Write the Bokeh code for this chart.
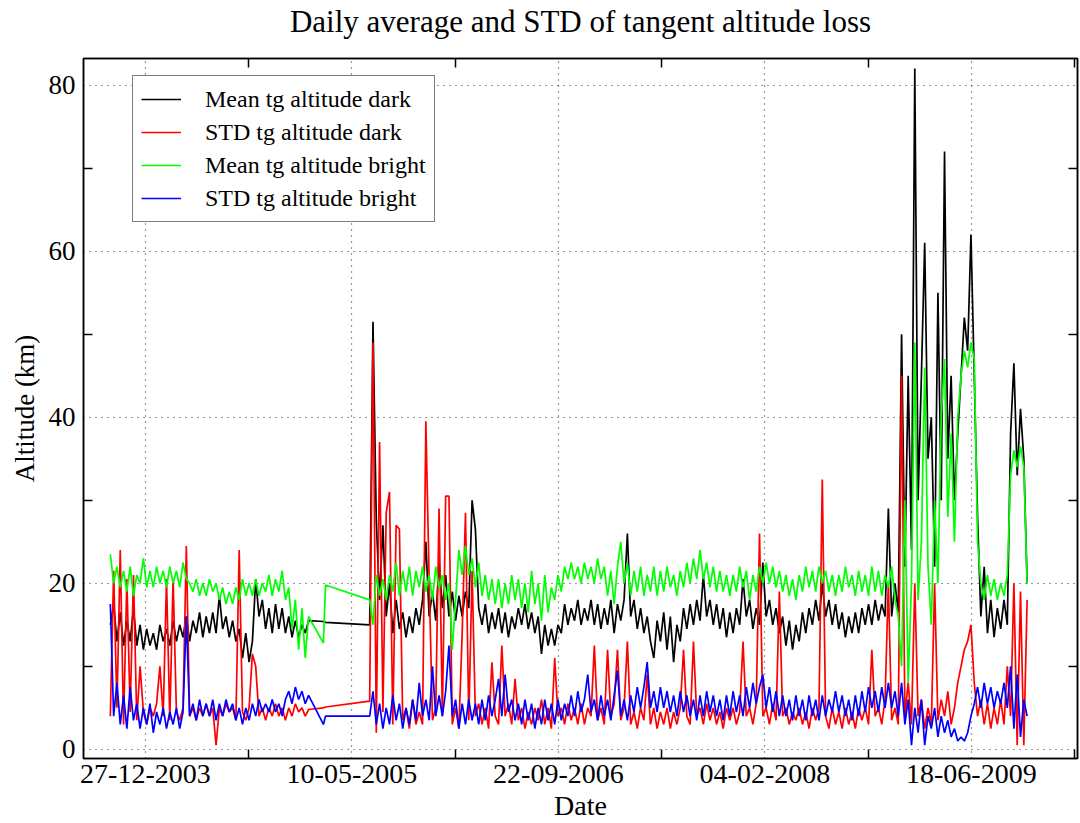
import pandas as pd
from bokeh.plotting import figure
from bokeh.models import (FixedTicker, LinearAxis, Legend, LegendItem,
                          DatetimeTickFormatter, Range1d)
from bokeh.embed import file_html
from bokeh.resources import INLINE

title_text = "Daily average and STD of tangent altitude loss"
x_label = "Date"
y_label = "Altitude (km)"
series_names = ["Mean tg altitude dark", "STD tg altitude dark",
                "Mean tg altitude bright", "STD tg altitude bright"]
series_colors = ["#000000", "#ff0000", "#00ff00", "#0000ff"]
tick_labels = ["27-12-2003", "10-05-2005", "22-09-2006", "04-02-2008", "18-06-2009"]
y_ticks = [0, 20, 40, 60, 80]
y_minor = [10, 30, 50, 70]

seg1_start = "2003-10-03"
seg2_start = "2005-06-22"
step = "8D"
gap_dates = ["2005-03-02", "2005-03-07"]

# ---- segment 1 (Oct 2003 - Jan 2005) ----
mean_dark_1 = [15, 17.5, 13, 16.5, 12.5, 15.5, 13, 17, 12.5, 15,
               12, 14.5, 12.5, 14, 12, 15, 13, 14.5, 12.5, 15.5,
               13, 15, 13.5, 16, 13, 15.5, 14, 16.5, 13.5, 16,
               14, 16.5, 14, 18.5, 14.5, 16, 13.5, 15.5, 13, 14.5,
               11, 14, 10.5, 13, 20.5, 16, 18, 14.5, 17, 14,
               17.5, 14.5, 17, 14, 16, 13.5, 15.5, 13.5, 15, 14, 15.5]
std_dark_1 = [4, 21.5, 5, 24, 3, 20.5, 4.5, 21, 3.5, 10,
              4.5, 3, 5, 4, 5.5, 10, 4, 20.5, 3.5, 20.5,
              4.5, 3.5, 5, 24.5, 4, 5, 3.5, 5, 4, 5.5,
              4, 5, 0.5, 5, 4, 5.5, 4.5, 5, 3.5, 24,
              4.5, 3.5, 5, 11.5, 10, 4, 5, 3.5, 5, 4,
              5.5, 4, 5, 3.5, 5, 4, 5.5, 4.5, 5, 4, 4.8]
mean_bright_1 = [23.5, 20, 22, 19.5, 21.5, 19, 22, 18.5, 21, 20,
                 23, 19.5, 21.5, 19.5, 22, 20, 21.5, 19.5, 22, 20,
                 21.5, 19.5, 22.5, 20.5, 20, 19, 20.5, 18.5, 20, 18.5,
                 20.5, 19, 20, 18, 19.5, 17.5, 19, 17.5, 19.5, 18,
                 20.5, 18.5, 20, 18.5, 20.5, 18.5, 20, 19, 21, 18.5,
                 20.5, 19, 21.5, 18, 19.5, 14.5, 18, 12, 17, 11, 16]
std_bright_1 = [17.5, 4, 8, 3, 6.5, 2.5, 7.5, 3.5, 5.5, 2.5,
                5, 3, 5.5, 2, 4.5, 3, 5, 2.5, 4.5, 3,
                5, 2.5, 4.5, 16, 4, 5.5, 3.5, 6, 4, 5.5,
                4, 6, 3.5, 5.5, 4, 6, 4.5, 5.5, 3.5, 5,
                3, 5, 3.5, 5.5, 4, 6, 4.5, 5.5, 4.5, 6,
                4.5, 5.5, 4, 6, 7, 5.5, 7.5, 6, 7, 5.5, 6.5]

# ---- isolated days in the gap ----
mean_dark_gap = [15.4, 15.3]
std_dark_gap = [5.0, 5.1]
mean_bright_gap = [12.8, 19.8]
std_bright_gap = [3.0, 4.0]

# ---- segment 2 (Jun 2005 - Oct 2009) ----
mean_dark_2 = [15, 51.5, 27.5, 18, 27, 16, 20, 14, 18, 14.5,
               16.5, 13.5, 16, 14, 17, 15, 18, 25, 16, 19,
               15.5, 22.5, 17, 21, 16, 19, 15.5, 18.5, 16, 19,
               17, 30, 26.5, 17, 15, 17.5, 14, 16.5, 14.5, 17,
               14, 16.5, 13.5, 16, 14.5, 17, 15, 17.5, 14.5, 16.5,
               14, 16, 11.5, 15, 12.5, 14.5, 12.5, 15, 14, 17.5,
               15, 17, 15.5, 18, 15, 17, 15.5, 18, 15, 17.5,
               14.5, 17, 15, 18, 14, 17.5, 15.5, 18, 26, 16,
               18, 14.5, 17, 14, 16, 13, 11, 15.5, 13, 16.5,
               12, 16, 10.5, 15, 13, 17, 14.5, 17.5, 15, 18,
               15.5, 21, 16, 18, 15, 17.5, 14.5, 17, 13.5, 16.5,
               14, 17, 15, 20.5, 16, 18, 14.5, 17, 15, 22.5,
               16, 18, 15, 17, 14, 16, 12.5, 15.5, 12, 15,
               13, 16.5, 14, 17, 15, 18, 15.5, 20, 16, 18,
               15, 17.5, 14.5, 16.5, 13.5, 16, 14, 16.5, 14, 17,
               15, 17.5, 15, 18, 15.5, 17.5, 16, 29, 16, 20,
               16.5, 50, 22, 45, 24, 82, 30, 45, 61, 35,
               40, 22, 55, 30, 72, 35, 45, 30, 38, 45,
               52, 48, 62, 45, 28, 16, 22, 14, 18, 13.5,
               17, 14.5, 18, 15, 38, 46.5, 33, 41, 35, 20]
std_dark_2 = [5.8, 49, 2, 37, 4.5, 28.5, 31, 3, 27, 26.5,
              3.5, 5, 2.5, 6, 3, 4.5, 3, 39.5, 20.5, 3.5,
              5, 29, 4, 30.5, 30.5, 3, 5, 2.5, 14, 28.5,
              3.5, 21.5, 4, 5.5, 3, 5, 2.5, 10.5, 4, 3,
              12.5, 4, 5.5, 3, 8.5, 3.5, 5, 2.5, 4.5, 3,
              5, 3.5, 6, 3, 5, 2.5, 11, 4, 5, 3,
              5.5, 3.5, 5, 3, 5.5, 3, 5, 4, 12.5, 3.5,
              5, 3, 12, 4, 5.5, 12, 3.5, 5, 13, 3,
              4.5, 2.5, 5, 3.5, 9, 3, 5, 2.5, 4.5, 3,
              5, 2.5, 4.5, 3, 5, 12, 4, 3, 13, 4,
              5, 3, 5.5, 3.5, 5, 3, 4.5, 2.5, 5, 3.5,
              5, 3, 4.5, 13, 4, 5, 3, 5.5, 26, 4,
              5, 3, 5.5, 3.5, 19, 4, 5, 3, 4.5, 3.5,
              5, 3, 4.5, 2.5, 5, 3.5, 5, 32.5, 4, 2.5,
              5, 3, 4.5, 2.5, 5, 3, 4.5, 2.5, 5, 3.5,
              5, 3, 12, 4, 5, 3, 6, 20, 3.5, 5,
              3, 45, 4, 8, 3, 20, 4, 6, 2.5, 5,
              3, 20, 3.5, 6, 4, 7, 3, 5, 8, 10,
              12, 13, 15, 8, 4, 6, 3, 5.5, 2.5, 5,
              3, 6, 3, 10, 4, 20, 0.5, 19, 0.5, 18]
mean_bright_2 = [18, 15, 21, 18.5, 20.5, 18, 21, 19, 22.5, 18.5,
                 21.5, 19, 22, 18.5, 21.5, 19.5, 22, 19, 21, 18,
                 22, 19.5, 21, 18, 20, 12, 18, 24, 21, 24.5,
                 21, 23, 19.5, 22.5, 18.5, 21, 18, 20.5, 17.5, 20.5,
                 17, 20, 17.5, 21, 18, 20.5, 17, 20, 16.5, 21.5,
                 17.5, 20, 15.5, 21, 16.5, 19.5, 18, 21, 19, 22,
                 20.5, 22.5, 20.5, 22, 20, 22.5, 20.5, 22, 20, 23,
                 20.5, 22, 18.5, 21.5, 17.5, 22, 25, 20, 22.5, 18.5,
                 21.5, 19, 22, 18.5, 21, 19, 22, 18.5, 21.5, 19,
                 22, 19.5, 21, 18.5, 21.5, 19.5, 22.5, 20, 23, 20.5,
                 24, 20.5, 22.5, 19.5, 22, 19, 21.5, 19, 21, 18.5,
                 21, 19, 22, 19.5, 21.5, 18, 21, 19, 22, 20,
                 22.5, 20, 22, 19.5, 21.5, 19, 21, 18.5, 20.5, 18,
                 21, 19, 22, 19.5, 21.5, 19, 22, 20, 21.5, 19,
                 21, 18.5, 21, 19, 22, 19.5, 21, 18.5, 21.5, 19,
                 21, 18.5, 22, 19, 21.5, 18.5, 21, 19.5, 22, 18,
                 16, 10, 30, 8, 20, 49, 18, 25, 46, 22,
                 15, 30, 20, 40, 47, 28, 38, 25, 40, 45,
                 48, 46, 49, 47, 25, 20, 18, 21, 18.5, 20.5,
                 18, 20, 18.5, 21, 33, 36, 34, 36.5, 34, 20]
std_bright_2 = [4, 7, 3, 5.5, 2.5, 5, 3, 6.5, 3.5, 5.5,
                2.5, 5, 3, 6, 3.5, 8, 4, 6, 3.5, 10,
                4, 6.5, 4, 7, 12.5, 4, 6, 2.5, 5.5, 3,
                6, 3.5, 5.5, 3, 6, 3.5, 6.5, 4, 6, 8.5,
                4, 9, 4.5, 6, 3.5, 5.5, 3, 6, 3.5, 5.5,
                2.5, 5, 3, 6, 3.5, 5.5, 3, 6, 3.5, 5.5,
                4, 6.5, 4, 7, 4.5, 6, 9, 4.5, 6, 3.5,
                6.5, 4, 6, 3.5, 6.5, 9.5, 4, 6, 3.5, 6.5,
                4.5, 7.5, 5, 7.5, 10.5, 5, 7, 4.5, 7.5, 5,
                7, 4.5, 6.5, 4, 7, 4.5, 6.5, 4, 6, 3.5,
                6.5, 4, 7, 4.5, 6.5, 4, 6, 3.5, 6.5, 4,
                7, 4.5, 6.5, 4, 7.5, 5, 8, 5.5, 7.5, 9,
                5, 7.5, 4.5, 7, 4, 6.5, 4, 6, 3.5, 6.5,
                4, 6, 3.5, 6.5, 4, 6, 3.5, 6.5, 4, 6,
                4.5, 7, 4.5, 6.5, 4, 6, 3.5, 6.5, 4, 7,
                4.5, 7.5, 5, 7, 4.5, 7.5, 5, 8, 5, 7,
                4, 8, 3, 6, 0.5, 5, 2, 6, 0.5, 4,
                2.5, 5, 1.5, 4, 2, 3.5, 1.5, 2.5, 1, 1.5,
                1, 2, 4, 5.5, 7.5, 5, 8, 5.5, 7.5, 5,
                7, 5.5, 8, 5, 10, 2.5, 9, 1.5, 6, 4]

dates = (list(pd.date_range(seg1_start, periods=len(mean_dark_1), freq=step))
         + list(pd.to_datetime(gap_dates))
         + list(pd.date_range(seg2_start, periods=len(mean_dark_2), freq=step)))

series = [mean_dark_1 + mean_dark_gap + mean_dark_2,
          std_dark_1 + std_dark_gap + std_dark_2,
          mean_bright_1 + mean_bright_gap + mean_bright_2,
          std_bright_1 + std_bright_gap + std_bright_2]

FONT = "Liberation Serif"

p = figure(width=1080, height=823, x_axis_type="datetime",
           output_backend="svg", toolbar_location=None,
           x_range=Range1d(pd.Timestamp("2003-07-30"), pd.Timestamp("2010-03-02")),
           y_range=Range1d(-1.1, 83.2),
           min_border_left=83, min_border_right=3, min_border_top=58, min_border_bottom=64)

tick_ts = pd.to_datetime(tick_labels, format="%d-%m-%Y")
tick_ms = [int(t.value // 10**6) for t in tick_ts]
half = (tick_ms[1] - tick_ms[0]) // 2
minor_ms = [t + half for t in tick_ms]

xticker = FixedTicker(ticks=tick_ms, minor_ticks=minor_ms)
yticker = FixedTicker(ticks=y_ticks, minor_ticks=y_minor)

fmt = "%d-%m-%Y"
p.xaxis.ticker = xticker
p.xaxis.formatter = DatetimeTickFormatter(milliseconds=fmt, seconds=fmt, minsec=fmt,
                                          minutes=fmt, hourmin=fmt, hours=fmt,
                                          days=fmt, months=fmt, years=fmt)
p.yaxis.ticker = yticker

for ax in [p.xaxis[0], p.yaxis[0]]:
    ax.major_tick_in = 0
    ax.major_tick_out = 0
    ax.minor_tick_in = 9
    ax.minor_tick_out = 0
    ax.minor_tick_line_color = "black"
    ax.minor_tick_line_width = 1.5
    ax.axis_line_color = "black"
    ax.axis_line_width = 1.5
    ax.major_label_text_font = FONT
    ax.major_label_text_color = "black"
    ax.axis_label_text_font = FONT
    ax.axis_label_text_font_style = "normal"
    ax.axis_label_text_color = "black"

p.xaxis.major_label_text_font_size = "28px"
p.xaxis.axis_label_text_font_size = "28px"
p.yaxis.major_label_text_font_size = "27px"
p.yaxis.axis_label_text_font_size = "27px"
p.xaxis.axis_label = x_label
p.yaxis.axis_label = y_label
p.xaxis.major_label_standoff = 6
p.xaxis.axis_label_standoff = 4
p.yaxis.major_label_standoff = 8
p.yaxis.axis_label_standoff = 6

right_axis = LinearAxis(ticker=FixedTicker(ticks=[], minor_ticks=y_minor))
top_axis = LinearAxis(ticker=FixedTicker(ticks=[], minor_ticks=minor_ms))
for ax in [right_axis, top_axis]:
    ax.major_tick_in = 0
    ax.major_tick_out = 0
    ax.major_tick_line_color = None
    ax.minor_tick_in = 9
    ax.minor_tick_out = 0
    ax.minor_tick_line_color = "black"
    ax.minor_tick_line_width = 1.5
    ax.axis_line_color = "black"
    ax.axis_line_width = 1.5
    ax.major_label_standoff = 0

# chart title carried by the top axis so it sits at the right height
top_axis.axis_label = title_text
top_axis.axis_label_text_font = FONT
top_axis.axis_label_text_font_size = "31px"
top_axis.axis_label_text_font_style = "normal"
top_axis.axis_label_text_color = "black"
top_axis.axis_label_standoff = 20

p.add_layout(right_axis, "right")
p.add_layout(top_axis, "above")

p.xgrid.ticker = xticker
p.ygrid.ticker = yticker
for g in [p.xgrid[0], p.ygrid[0]]:
    g.grid_line_color = "#333333"
    g.grid_line_dash = "1 5"
    g.grid_line_width = 1.2

p.outline_line_color = "black"
p.outline_line_width = 1.5
p.background_fill_color = "white"
p.border_fill_color = "white"

renderers = []
for vals, col in zip(series, series_colors):
    r = p.line(dates, vals, line_color=col, line_width=1.7)
    renderers.append(r)

legend = Legend(items=[LegendItem(label=n, renderers=[r]) for n, r in zip(series_names, renderers)],
                location=(49, 536))
legend.label_text_font = FONT
legend.label_text_font_size = "24px"
legend.label_text_color = "black"
legend.glyph_width = 40
legend.glyph_height = 30
legend.label_height = 30
legend.spacing = 3
legend.padding = 8
legend.margin = 0
legend.label_standoff = 24
legend.border_line_color = "black"
legend.border_line_width = 1.5
legend.background_fill_color = "white"
legend.background_fill_alpha = 1.0
p.add_layout(legend)

open("out.html", "w").write(file_html(p, INLINE))
